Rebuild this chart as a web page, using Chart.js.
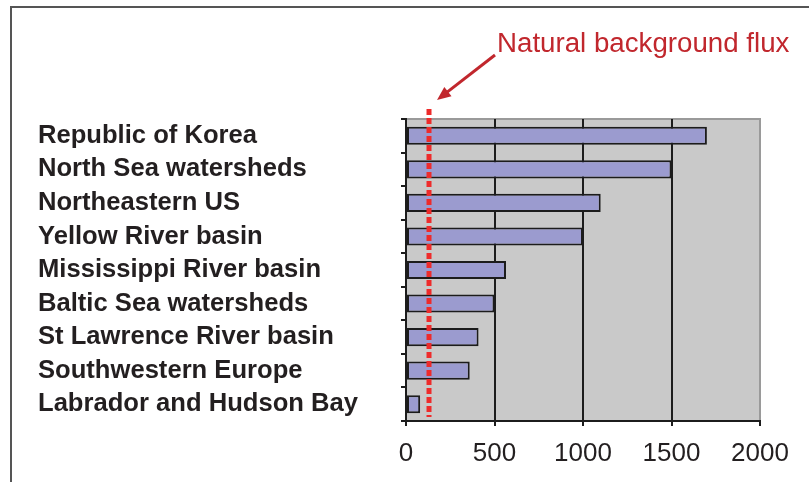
<!DOCTYPE html>
<html>
<head>
<meta charset="utf-8">
<script src="https://cdn.jsdelivr.net/npm/chart.js@4"></script>
<style>
  body { margin: 0; background: #fff; }
  #wrap { position: relative; width: 809px; height: 482px; }
  #frame { position: absolute; left: 10px; top: 6px; right: -4px; bottom: -4px; border-top: 2px solid #555; border-left: 2px solid #555; }
  canvas { position: absolute; left: 0; top: 0; }
</style>
</head>
<body>
<div id="wrap">
  <div id="frame"></div>
  <canvas id="chart"></canvas>
</div>
<script>
const categories = ['Republic of Korea', 'North Sea watersheds', 'Northeastern US', 'Yellow River basin',
    'Mississippi River basin', 'Baltic Sea watersheds', 'St Lawrence River basin', 'Southwestern Europe',
    'Labrador and Hudson Bay'];
const fluxValues = [1700, 1500, 1100, 1000, 565, 500, 410, 360, 80];
const xTicks = [0, 500, 1000, 1500, 2000];
const naturalFlux = 130;
const noteText = 'Natural background flux';

const plotBg = {
    id: 'plotBg',
    beforeDraw(chart) {
        const { ctx, chartArea: a } = chart;
        ctx.save();
        ctx.fillStyle = '#c9c9c9';
        ctx.fillRect(a.left, a.top, a.right - a.left, a.bottom - a.top);
        ctx.strokeStyle = '#9a9a9a';
        ctx.lineWidth = 2;
        ctx.beginPath();
        ctx.moveTo(a.left, a.top);
        ctx.lineTo(a.right, a.top);
        ctx.lineTo(a.right, a.bottom);
        ctx.stroke();
        ctx.restore();
    }
};

const fluxLine = {
    id: 'fluxLine',
    afterDatasetsDraw(chart) {
        const { ctx, chartArea: a } = chart;
        const x = chart.scales.x.getPixelForValue(naturalFlux);
        ctx.save();
        // dashed red line
        ctx.strokeStyle = '#ee2b2b';
        ctx.lineWidth = 5;
        ctx.setLineDash([6, 3]);
        ctx.beginPath();
        ctx.moveTo(x, a.top - 10);
        ctx.lineTo(x, a.bottom - 4);
        ctx.stroke();
        ctx.setLineDash([]);
        // arrow
        const tipX = x + 8, tipY = a.top - 19;
        const sx = 495, sy = 55;
        const ang = Math.atan2(tipY - sy, tipX - sx);
        ctx.strokeStyle = '#c1272d';
        ctx.fillStyle = '#c1272d';
        ctx.lineWidth = 3;
        ctx.beginPath();
        ctx.moveTo(sx, sy);
        ctx.lineTo(tipX - Math.cos(ang) * 10, tipY - Math.sin(ang) * 10);
        ctx.stroke();
        ctx.beginPath();
        ctx.moveTo(tipX, tipY);
        ctx.lineTo(tipX - Math.cos(ang - 0.4) * 15, tipY - Math.sin(ang - 0.4) * 15);
        ctx.lineTo(tipX - Math.cos(ang + 0.4) * 15, tipY - Math.sin(ang + 0.4) * 15);
        ctx.closePath();
        ctx.fill();
        // label
        ctx.font = '27.7px "Liberation Sans", Arial, sans-serif';
        ctx.textBaseline = 'alphabetic';
        ctx.textAlign = 'left';
        ctx.fillText(noteText, 497, 52);
        ctx.restore();
    }
};

document.addEventListener('DOMContentLoaded', function () {
    const ctx = document.getElementById('chart').getContext('2d');
    new Chart(ctx, {
        type: 'bar',
        data: {
            labels: categories,
            datasets: [{
                data: fluxValues,
                backgroundColor: '#9b9bcf',
                borderColor: '#1c1c1c',
                borderWidth: 2,
                borderSkipped: false,
                categoryPercentage: 1,
                barPercentage: 0.54
            }]
        },
        options: {
            indexAxis: 'y',
            responsive: true,
            maintainAspectRatio: false,
            animation: false,
            layout: { padding: { left: 38, top: 119, right: 49, bottom: 0 } },
            plugins: { legend: { display: false }, tooltip: { enabled: false } },
            scales: {
                x: {
                    min: 0,
                    max: 2000,
                    afterBuildTicks: function (scale) { scale.ticks = xTicks.map(v => ({ value: v })); },
                    afterFit: function (scale) { scale.height = 61; },
                    border: { color: '#1c1c1c', width: 2 },
                    grid: {
                        color: c => c.tick.value === 0 ? 'rgba(0,0,0,0)' : (c.tick.value === 2000 ? '#9a9a9a' : '#1c1c1c'),
                        lineWidth: 2,
                        tickLength: 5,
                        tickColor: '#1c1c1c'
                    },
                    ticks: {
                        color: '#231f20',
                        font: { family: '"Liberation Sans", Arial, sans-serif', size: 26 },
                        padding: 12,
                        maxRotation: 0,
                        callback: function (value) { return String(value); }
                    }
                },
                y: {
                    afterFit: function (scale) { scale.width = 368; },
                    border: { color: '#1c1c1c', width: 2 },
                    grid: {
                        drawOnChartArea: false,
                        color: '#1c1c1c',
                        lineWidth: 2,
                        tickLength: 5
                    },
                    ticks: {
                        color: '#231f20',
                        crossAlign: 'far',
                        autoSkip: false,
                        font: { family: '"Liberation Sans", Arial, sans-serif', size: 25.6, weight: 'bold' }
                    }
                }
            }
        },
        plugins: [plotBg, fluxLine]
    });
});
</script>
</body>
</html>
